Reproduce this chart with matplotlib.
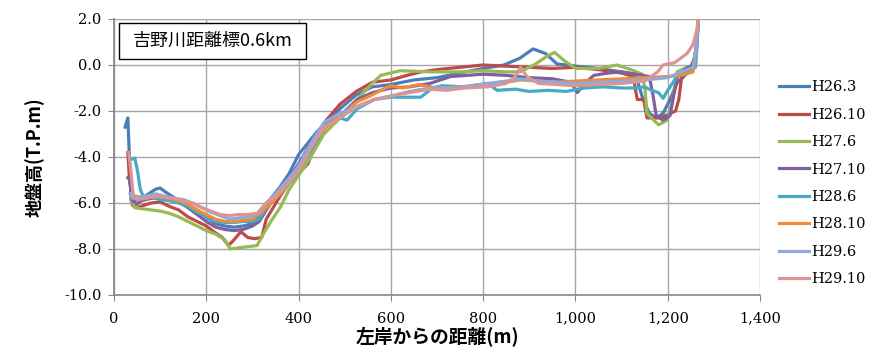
import matplotlib
matplotlib.use("Agg")
import matplotlib.pyplot as plt
from matplotlib.patches import Rectangle
from matplotlib.ticker import FuncFormatter, MultipleLocator

JP = ['Noto Sans CJK JP', 'DejaVu Sans']
NUM = ['DejaVu Serif']
plt.rcParams['font.family'] = NUM

# ---- data (distance m, elevation T.P.m) ----
h26_3_x = [24, 30, 33, 37, 45, 60, 75, 90, 100, 110, 125, 140, 160, 180, 200, 220, 240, 260, 280, 300,
           320, 340, 360, 380, 400, 420, 440, 460, 490, 525, 560, 600, 650, 700, 750, 800, 845, 880,
           908, 935, 960, 1000, 1050, 1100, 1130, 1145, 1160, 1175, 1190, 1205, 1220, 1240, 1258, 1263, 1266]
h26_3_y = [-2.7, -2.3, -3.8, -5.9, -5.9, -5.8, -5.6, -5.4, -5.35, -5.5, -5.7, -5.9, -6.1, -6.3, -6.6, -6.9,
           -7.0, -7.05, -7.0, -6.9, -6.4, -5.8, -5.3, -4.7, -3.9, -3.4, -2.9, -2.5, -1.9, -1.3, -0.95, -0.85,
           -0.65, -0.55, -0.35, -0.15, 0.0, 0.3, 0.7, 0.5, 0.05, -0.05, -0.15, -0.3, -0.4, -1.4, -2.1, -2.3,
           -2.1, -1.5, -0.8, -0.4, -0.1, 1.0, 2.0]

h26_10_x = [30, 33, 40, 50, 65, 80, 100, 120, 140, 160, 180, 200, 220, 235, 248, 260, 275, 290, 305, 320,
            330, 345, 360, 380, 400, 420, 440, 460, 490, 525, 560, 600, 635, 665, 700, 750, 800, 850, 900,
            950, 1000, 1050, 1100, 1125, 1134, 1148, 1155, 1184, 1217, 1224, 1231, 1250, 1260, 1264, 1266]
h26_10_y = [-3.8, -4.8, -6.1, -6.2, -6.1, -6.0, -5.95, -6.15, -6.3, -6.6, -6.8, -7.0, -7.3, -7.5, -7.85,
            -7.6, -7.25, -7.5, -7.55, -7.5, -6.7, -6.2, -5.7, -5.1, -4.7, -4.3, -3.3, -2.4, -1.7, -1.15,
            -0.75, -0.65, -0.45, -0.3, -0.2, -0.1, 0.0, -0.05, -0.1, -0.15, -0.1, -0.2, -0.35, -0.5, -1.5,
            -1.5, -2.3, -2.3, -2.0, -1.5, -0.4, -0.1, 0.4, 1.2, 2.0]

h27_6_x = [38, 45, 60, 80, 100, 120, 140, 160, 180, 200, 220, 240, 252, 270, 290, 310, 325, 340, 360,
           380, 400, 426, 455, 490, 527, 555, 578, 620, 690, 750, 800, 850, 880, 910, 940, 955, 975, 1000,
           1050, 1090, 1120, 1145, 1151, 1155, 1180, 1199, 1210, 1220, 1242, 1260, 1264, 1266]
h27_6_y = [-5.9, -6.2, -6.25, -6.3, -6.35, -6.45, -6.6, -6.8, -7.0, -7.2, -7.35, -7.6, -8.0, -7.95,
           -7.9, -7.85, -7.3, -6.8, -6.2, -5.4, -4.8, -4.0, -3.0, -2.3, -1.5, -0.9, -0.45, -0.25, -0.3,
           -0.3, -0.25, -0.3, -0.3, 0.0, 0.4, 0.55, 0.2, -0.15, -0.15, 0.0, -0.2, -0.4, -1.1, -2.1, -2.6,
           -2.4, -1.6, -0.3, -0.1, 0.0, 1.0, 2.0]

h27_10_x = [30, 34, 40, 50, 60, 80, 100, 120, 140, 160, 180, 200, 220, 240, 260, 280, 300, 315, 330,
            350, 370, 400, 430, 460, 490, 527, 560, 600, 640, 685, 730, 800, 850, 900, 950, 990, 1004,
            1020, 1040, 1070, 1100, 1130, 1160, 1168, 1175, 1190, 1205, 1213, 1222, 1236, 1255, 1262, 1266]
h27_10_y = [-4.9, -5.0, -5.9, -6.05, -5.9, -5.8, -5.75, -5.85, -5.95, -6.2, -6.5, -6.8, -7.05, -7.15,
            -7.2, -7.15, -7.0, -6.8, -6.3, -5.7, -5.2, -4.3, -3.3, -2.6, -2.2, -1.5, -1.2, -1.0, -0.95,
            -0.8, -0.5, -0.4, -0.45, -0.55, -0.6, -0.75, -1.2, -0.8, -0.45, -0.35, -0.3, -0.4, -0.5, -1.3,
            -2.2, -2.4, -2.2, -1.3, -0.5, -0.2, 0.0, 0.8, 2.0]

h28_6_x = [38, 45, 50, 57, 63, 80, 100, 120, 140, 160, 180, 200, 220, 240, 260, 280, 300, 315, 330,
           350, 370, 400, 430, 460, 490, 505, 527, 564, 600, 640, 665, 690, 710, 760, 810, 830, 870, 900,
           940, 980, 1020, 1060, 1100, 1130, 1150, 1165, 1180, 1190, 1200, 1220, 1245, 1260, 1264, 1266]
h28_6_y = [-4.1, -4.05, -4.5, -5.4, -5.7, -5.75, -5.85, -5.9, -6.0, -6.15, -6.4, -6.6, -6.8, -6.85,
           -6.85, -6.8, -6.8, -6.7, -6.2, -5.8, -5.4, -4.6, -3.6, -2.6, -2.3, -2.4, -1.9, -1.5, -1.4,
           -1.4, -1.4, -1.0, -0.9, -0.95, -0.8, -1.1, -1.05, -1.15, -1.1, -1.15, -1.0, -0.95, -1.0, -1.0,
           -0.95, -1.1, -1.2, -1.45, -1.1, -0.5, -0.3, -0.1, 1.0, 2.0]

h28_10_x = [38, 45, 60, 80, 100, 120, 140, 160, 180, 200, 220, 240, 260, 280, 300, 320, 340, 360, 380,
            400, 430, 460, 490, 527, 560, 578, 600, 625, 660, 700, 750, 800, 850, 880, 920, 960, 1000,
            1050, 1100, 1150, 1200, 1230, 1255, 1262, 1266]
h28_10_y = [-5.6, -5.7, -5.75, -5.75, -5.7, -5.8, -5.9, -6.05, -6.3, -6.5, -6.7, -6.8, -6.8, -6.75,
            -6.7, -6.4, -6.0, -5.6, -5.1, -4.5, -3.4, -2.7, -2.2, -1.6, -1.3, -1.1, -0.9, -1.0, -0.85,
            -1.0, -0.95, -0.85, -0.75, -0.65, -0.7, -0.75, -0.7, -0.65, -0.6, -0.55, -0.5, -0.45, -0.3,
            0.8, 2.0]

h29_6_x = [35, 40, 50, 70, 90, 110, 130, 150, 170, 190, 210, 230, 250, 270, 290, 310, 330, 350, 380,
           400, 430, 455, 490, 527, 564, 600, 640, 685, 720, 760, 810, 850, 880, 920, 960, 1000, 1050,
           1100, 1150, 1200, 1230, 1255, 1262, 1266]
h29_6_y = [-5.6, -5.8, -5.75, -5.7, -5.6, -5.7, -5.8, -5.85, -6.0, -6.2, -6.4, -6.55, -6.7, -6.65,
           -6.6, -6.5, -6.0, -5.6, -4.9, -4.4, -3.3, -2.5, -2.1, -1.8, -1.5, -1.35, -1.15, -1.0, -1.0,
           -0.95, -0.8, -0.7, -0.6, -0.7, -0.75, -0.8, -0.75, -0.7, -0.65, -0.55, -0.3, -0.1, 0.8, 2.0]

h29_10_x = [32, 36, 42, 50, 70, 90, 110, 130, 150, 170, 190, 210, 230, 250, 270, 290, 310, 330, 350,
            380, 400, 430, 455, 490, 527, 564, 600, 640, 685, 720, 760, 810, 850, 870, 881, 895, 920,
            960, 1000, 1050, 1100, 1150, 1178, 1190, 1215, 1242, 1255, 1263, 1267]
h29_10_y = [-3.8, -4.5, -5.7, -5.85, -5.8, -5.7, -5.75, -5.8, -5.9, -6.0, -6.2, -6.35, -6.5, -6.55,
            -6.5, -6.5, -6.45, -6.0, -5.7, -5.1, -4.6, -3.5, -2.7, -2.3, -1.8, -1.5, -1.35, -1.2, -1.05,
            -1.1, -1.0, -0.95, -0.8, -0.5, -0.1, -0.5, -0.8, -0.85, -0.9, -0.85, -0.8, -0.7, -0.3, 0.0,
            0.1, 0.5, 0.9, 1.5, 2.2]

labels = ['H26.3', 'H26.10', 'H27.6', 'H27.10', 'H28.6', 'H28.10', 'H29.6', 'H29.10']
colors = ['#4A7EBB', '#BE4B48', '#98B954', '#7D60A0', '#46AAC5', '#F38A34', '#8EA9DB', '#D99694']
xs = [h26_3_x, h26_10_x, h27_6_x, h27_10_x, h28_6_x, h28_10_x, h29_6_x, h29_10_x]
ys = [h26_3_y, h26_10_y, h27_6_y, h27_10_y, h28_6_y, h28_10_y, h29_6_y, h29_10_y]

fig = plt.figure(figsize=(8.71, 3.54), dpi=100)
ax = fig.add_axes([114 / 871, 59 / 354, 646 / 871, 276 / 354])

for x, y, c, lab in zip(xs, ys, colors, labels):
    ax.plot(x, y, color=c, lw=2.3, label=lab, solid_joinstyle='round')

ax.set_xlim(0, 1400)
ax.set_ylim(-10, 2)
ax.xaxis.set_major_locator(MultipleLocator(200))
ax.yaxis.set_major_locator(MultipleLocator(2))
ax.xaxis.set_major_formatter(FuncFormatter(lambda v, p: f"{int(v):,}"))
ax.yaxis.set_major_formatter(FuncFormatter(lambda v, p: f"{v:.1f}"))

ax.set_axisbelow(True)
ax.grid(True, color='#a6a6a6', lw=1.0)
for s in ['top', 'right']:
    ax.spines[s].set_visible(False)
for s in ['left', 'bottom']:
    ax.spines[s].set_color('#868686')
    ax.spines[s].set_linewidth(1.2)
ax.tick_params(direction='out', length=4, color='#868686', labelsize=10.5)
ax.tick_params(axis='x', pad=8)
ax.tick_params(axis='y', pad=5)

ax.set_xlabel('左岸からの距離(m)', family=JP, fontsize=13.5, fontweight='bold', labelpad=1)
ax.set_ylabel('地盤高(T.P.m)', family=JP, fontsize=13, fontweight='bold', labelpad=14)

# title box in the top-left corner
ax.add_patch(Rectangle((5 / 646, 236 / 276), 187 / 646, 36 / 276, transform=ax.transAxes,
                       facecolor='white', edgecolor='black', lw=1.0, zorder=5))
ax.text(99 / 646, 254 / 276, '吉野川距離標0.6km', transform=ax.transAxes, family=JP,
        fontsize=13, ha='center', va='center', zorder=6)

leg = ax.legend(loc='center left', bbox_to_anchor=(1.02, 0.405), frameon=False,
                handlelength=2.1, handletextpad=0.15, labelspacing=0.92, borderaxespad=0,
                prop={'family': NUM, 'size': 10.5})

fig.savefig('out.png', dpi=100)
